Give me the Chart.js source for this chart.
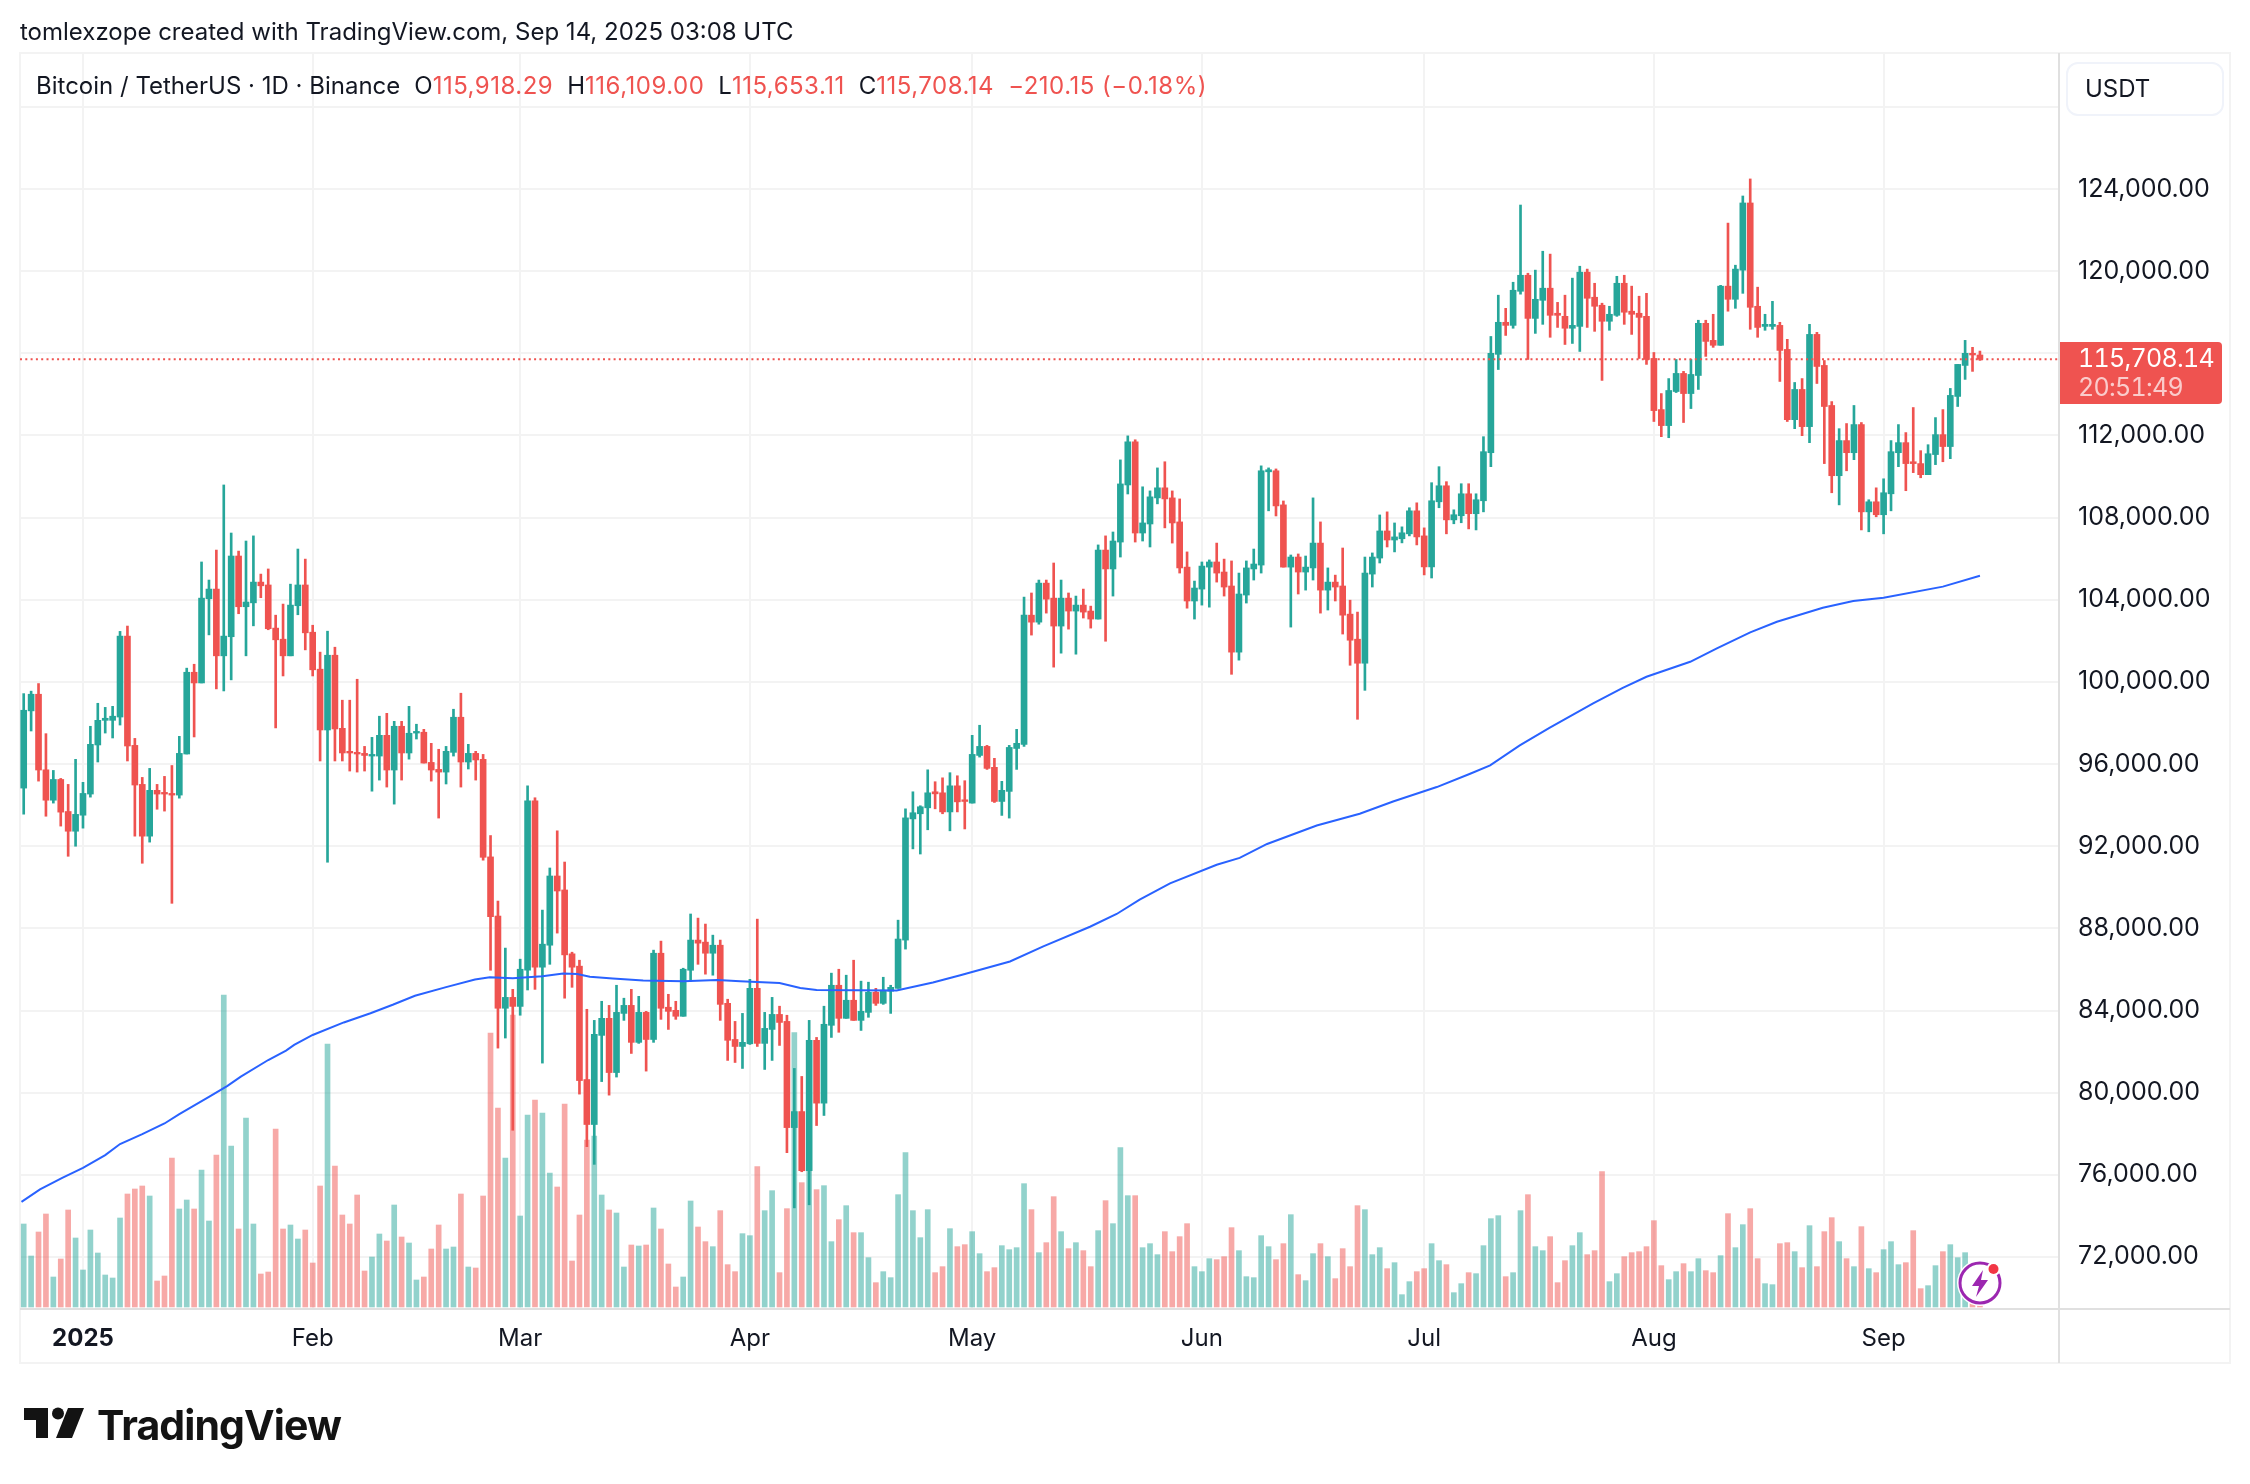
<!DOCTYPE html>
<html>
<head>
<meta charset="utf-8">
<title>BTCUSDT</title>
<script src="https://cdn.jsdelivr.net/npm/chart.js@4"></script>
<style>
body { margin: 0; background: #fff; width: 2250px; height: 1484px; position: relative; overflow: hidden; font-family: Inter, sans-serif; color: #131722; }
canvas { position: absolute; left: 0; top: 0; }
.abs { position: absolute; white-space: nowrap; }
#credit { left: 20px; top: 16px; font-size: 24px; line-height: 32px; }
#legend { left: 36px; top: 70px; font-size: 24px; line-height: 32px; }
#legend span { color: #ef5350; letter-spacing: 0.5px; }
#legend i { font-style: normal; margin-left: 14px; }
#usdt { left: 2066px; top: 62px; width: 154px; height: 50px; border: 2px solid #f0f3fa; border-radius: 12px; font-size: 24px; line-height: 50px; text-indent: 17px; }
#tag { left: 2060px; top: 342px; width: 162px; height: 62px; background: #ef5350; border-radius: 0 4px 4px 0; color: #fff; font-size: 25px; line-height: 29px; padding-top: 2px; box-sizing: border-box; text-indent: 18px; font-variant-numeric: tabular-nums; letter-spacing: -0.7px; }
#tag div + div { opacity: 0.7; }
#brand { left: 97px; top: 1400px; font-size: 41px; line-height: 50px; font-weight: 700; color: #131313; letter-spacing: -0.9px; }
svg { position: absolute; }
</style>
</head>
<body>
<canvas id="chart" width="2250" height="1484"></canvas>
<div class="abs" id="credit">tomlexzope created with TradingView.com, Sep 14, 2025 03:08 UTC</div>
<div class="abs" id="legend">Bitcoin / TetherUS · 1D · Binance<i>O</i><span>115,918.29</span><i>H</i><span>116,109.00</span><i>L</i><span>115,653.11</span><i>C</i><span>115,708.14</span><i></i><span>−210.15 (−0.18%)</span></div>
<div class="abs" id="usdt">USDT</div>
<div class="abs" id="tag"><div>115,708.14</div><div>20:51:49</div></div>
<svg style="left:0;top:1380px" width="100" height="70" viewBox="0 0 100 70">
  <path fill="#131313" d="M24 28H48V58H36V40H24Z"/>
  <circle fill="#131313" cx="58" cy="33.5" r="6"/>
  <path fill="#131313" d="M68 28H84L72 58H56Z"/>
</svg>
<div class="abs" id="brand">TradingView</div>
<svg style="left:1950px;top:1255px" width="60" height="60" viewBox="0 0 60 60">
  <circle cx="30" cy="28" r="23" fill="#fff"/>
  <circle cx="30" cy="28" r="20" fill="#fff" stroke="#9c27b0" stroke-width="3"/>
  <path fill="#9c27b0" d="M33 15L22 31H29L26 42L38 25H31Z"/>
  <circle cx="43.5" cy="14" r="7" fill="#fff"/>
  <circle cx="43.5" cy="14" r="5" fill="#f23645"/>
</svg>
<script>
// first candle is Dec 24 2024, days are counted from Jan 1 2025
const firstDay = -8;

const opens = [
  94830,98590,99400,95720,94240,95250,93690,92730,93510,94540,
  96930,98130,98130,98290,102230,96910,95010,92490,94720,94620,
  94570,94490,96490,100470,99950,104050,104520,101270,102200,106130,
  103660,103850,104860,104720,102620,102080,101270,103710,104720,102420,
  100620,97660,101300,97740,96620,96570,96520,96390,96390,97400,
  95710,97840,96540,97510,97550,96080,95740,95610,96570,98280,
  96100,96520,96230,91480,88600,84110,84640,84200,85960,94210,
  86110,87180,90550,89870,86760,86160,80640,78450,82790,83620,
  80980,83860,84250,82450,83910,82590,86790,84160,84010,83720,
  85960,87430,87330,86790,87180,84350,82590,82250,82380,85080,
  82400,83080,83810,83470,78300,79080,76200,82550,79490,83280,
  85230,83620,84500,83520,83910,84890,84350,84940,85080,87430,
  93330,93580,93870,94650,94600,93670,94940,94260,94100,96420,
  96860,95840,94180,94670,96760,96960,103250,102910,104810,104080,
  102720,104080,103450,103740,103450,103060,106420,105500,106810,109590,
  111690,107250,107690,108960,109450,108960,107790,105590,103940,104520,
  105590,105840,105350,104670,101450,104230,105500,105690,110230,110280,
  108620,105590,106080,105350,105550,106760,104470,104860,104670,103300,
  102080,100910,105250,106030,107350,106910,106970,107210,108330,107110,
  105600,108770,109550,107890,108090,109160,108190,108820,111160,115950,
  117510,117360,119020,119800,117700,118580,119170,117950,117800,117220,
  117310,119950,118730,118340,117560,117850,119410,118050,117950,117800,
  115750,113260,112480,114140,115020,114040,114920,117460,116630,116390,
  119270,118630,120050,123320,118290,117310,117310,117360,116190,112770,
  114240,112430,116920,115410,113460,110040,111750,111160,112530,108280,
  108770,108140,109160,111160,111650,110720,110630,110090,111070,112040,
  111460,113900,115410,116000,115918.29
];
const highs = [
  99430,99550,99920,97480,95690,95300,95010,96230,95110,97840,
  98960,98760,98810,102460,102720,97250,95350,95790,95010,95400,
  95930,97350,100670,100860,105840,104960,106420,109590,107250,106370,
  106860,107110,105250,105500,103250,103790,104760,106470,105980,102760,
  101450,102470,101690,99110,99110,100130,96860,97300,98330,98470,
  98080,98080,98810,97940,97690,97010,96720,96860,98670,99450,
  96960,96620,96470,92520,89330,87040,85030,86500,94940,94360,
  88890,90940,92750,91230,86840,86450,84060,83520,84450,84250,
  85230,84600,85030,84690,83960,86940,87380,84790,84450,86060,
  88700,88500,88210,87670,87430,84550,83470,83860,85520,88450,
  83910,84640,84210,83770,81180,80790,83520,82690,84210,85820,
  86010,85720,86450,85430,85380,85080,85620,85230,88400,93820,
  94650,93970,95720,95140,95330,95580,95430,95190,97400,97890,
  96910,96280,95160,96910,97690,104130,104330,104960,104960,105790,
  104960,104330,104180,104520,103690,106670,107110,107300,110810,111980,
  111790,109500,109300,110420,110720,109300,108910,106330,104910,105840,
  105940,106760,105980,105890,105300,105890,106470,110520,110420,110370,
  108810,106180,106230,106130,108960,107790,105550,105200,106520,103980,
  103400,106080,106280,108130,108280,107740,107550,108480,108720,107500,
  109700,110480,109750,108380,109650,109650,109160,111940,116820,118830,
  118190,119460,123220,119900,120050,120970,120830,118480,118830,119660,
  120240,120100,119410,118440,118290,119750,119800,119270,118780,118920,
  116040,114040,114770,115700,115120,115700,117610,117610,117900,119310,
  122340,120290,123660,124490,119220,117900,118530,117510,116680,114580,
  114770,117410,117020,115650,113650,112330,112580,113460,112630,108870,
  109450,109890,111750,112530,112140,113360,111260,111550,112870,113260,
  114290,115460,116630,116290,116109
];
const lows = [
  93560,97610,95170,93460,94100,92980,91510,92000,92880,94390,
  96100,97510,97270,97900,96150,92490,91170,92200,93800,93710,
  89220,94340,96490,97320,99950,102290,99660,99560,100100,103320,
  101270,102730,104100,102540,97760,100290,101270,103270,101560,100290,
  96150,91220,96150,96150,95660,95610,95660,94680,95220,94880,
  94050,95220,96240,97220,96050,95170,93370,95030,96390,94880,
  95760,95220,91320,85960,82170,82660,78170,83770,85000,85030,
  81440,86250,87770,84600,85130,79930,77370,76510,80540,79880,
  80760,83520,81910,82400,81050,82450,83570,83080,83570,83720,
  85430,86250,85770,85720,83520,81570,81470,81180,82350,82250,
  81130,81570,82300,77080,74390,76150,74540,78400,78890,82690,
  82940,83620,83520,83030,83670,84250,84300,83860,85080,86990,
  91870,91620,92800,93820,93580,92750,93670,92840,94100,96340,
  95740,94130,93500,93370,95740,96860,102280,102810,103350,100720,
  101400,102570,101350,103110,102620,103060,101980,104180,106080,109150,
  106810,106860,106570,108670,107500,106760,105300,103590,103060,103740,
  103640,104860,104180,100370,101060,103840,104960,105300,108330,108080,
  105590,102670,104280,104470,104960,103350,103500,103940,102330,100810,
  98180,99590,104620,105790,106570,106330,106770,107110,106670,105210,
  105060,108480,107210,107700,107750,107450,107400,108280,110480,115210,
  116870,117220,118880,115700,116970,117410,116780,117260,116430,116480,
  116090,117260,117070,114680,117120,117800,117410,116920,115750,115460,
  112680,111940,111890,114090,112630,113310,114240,115850,116290,116390,
  118050,118190,118920,117170,116780,117120,117170,114630,112680,112330,
  111990,111650,114530,110630,109210,108620,110280,110820,107400,107310,
  108040,107210,108330,110480,109310,110190,109940,110090,110580,110720,
  110870,113410,114730,115120,115653.11
];
const closes = [
  98620,99400,95710,94240,95250,93660,92730,93550,94570,96960,
  98130,98230,98330,102230,96880,94980,92490,94720,94540,94540,
  94490,96520,100470,99950,104080,104520,101270,102230,106130,103660,
  103890,104860,104680,102590,102050,101270,103740,104720,102390,100590,
  97660,101300,97710,96540,96540,96490,96420,96470,97400,95710,
  97840,96540,97500,97590,96050,95710,95610,96620,98280,96100,
  96520,96200,91460,88570,84110,84640,84200,86010,94210,86110,
  87230,90550,89820,86710,86110,80590,78450,82840,83620,80980,
  83910,84250,82450,83910,82590,86790,84110,83960,83720,86010,
  87430,87280,86790,87180,84300,82550,82250,82450,85080,82400,
  83130,83810,83420,78300,79080,76200,82550,79490,83330,85230,
  83620,84500,83520,83960,84890,84350,84990,85130,87480,93380,
  93630,93920,94600,94550,93670,94940,94160,94180,96470,96860,
  95790,94180,94720,96810,97010,103250,102910,104810,104030,102720,
  104080,103450,103740,103400,103060,106420,105500,106860,109640,111690,
  107250,107740,109010,109450,108910,107740,105550,103940,104570,105640,
  105840,105300,104620,101450,104280,105550,105740,110280,110330,108570,
  105590,106080,105350,105590,106760,104470,104860,104620,103250,102030,
  100910,105300,106080,107350,106910,107060,107260,108330,107060,105600,
  108820,109550,107890,108140,109160,108190,108870,111210,116000,117510,
  117360,119070,119800,117700,118630,119170,117850,117850,117220,117360,
  119950,118680,118290,117560,117900,119410,118000,117900,117750,115700,
  113210,112480,114190,115020,114040,114970,117460,116580,116390,119270,
  118630,120100,123320,118240,117260,117410,117410,116140,112770,114240,
  112430,116920,115360,113410,110040,111750,111160,112530,108280,108770,
  108140,109210,111210,111650,110630,110630,110090,111110,112040,111460,
  113950,115460,116000,115918.29,115708.14
];
// volume, relative units
const volumes = [
  249,153,225,279,90,144,291,207,111,231,
  162,96,87,267,339,354,363,333,78,93,
  447,294,321,294,411,258,456,936,483,234,
  567,249,99,105,534,234,246,204,231,132,
  363,789,423,276,249,336,108,150,219,198,
  306,210,192,81,90,174,246,174,180,339,
  120,117,333,822,597,447,876,273,576,621,
  582,402,360,609,138,276,501,513,336,291,
  282,120,186,183,186,297,234,129,60,90,
  318,240,196,181,289,127,106,220,214,421,
  289,349,103,295,823,373,422,352,364,196,
  262,304,223,223,148,73,106,88,337,463,
  289,208,292,103,121,235,181,187,226,160,
  106,118,184,172,178,370,292,163,193,331,
  226,175,193,169,121,229,319,250,478,334,
  334,178,190,157,226,166,211,250,121,106,
  145,142,151,238,169,91,88,214,181,142,
  190,277,97,79,160,190,151,85,175,121,
  304,292,157,178,115,133,37,76,106,115,
  190,139,127,43,70,103,100,184,265,274,
  91,103,289,337,181,169,211,73,139,184,
  223,157,169,406,76,100,151,163,166,181,
  259,124,82,106,130,106,145,109,103,154,
  280,178,247,295,145,70,67,190,193,166,
  118,244,121,226,268,196,145,121,241,115,
  103,172,196,127,133,229,55,64,124,166,
  187,148,163,10,4
];
// moving average line, read at these days
const maDays = [-8.3,-5.8,-2.8,0,3,5,8,11,13,17,19.5,21.3,25,27.4,28.5,31,35.2,38.8,41.8,44.8,49,52.9,54.9,58,62,64.8,66.7,68.4,71.5,75.6,81,85.6,88.7,94,96.8,99,109.8,114.7,118.4,125.1,129.6,135.9,139.5,142.6,146.7,153,156.1,159.8,166.5,172.3,176.8,182.7,187.2,189.9,193.9,197.9,203.8,207.8,211,216.9,220.5,225,228.6,234.8,238.9,243,251,256];
const maValues = [74680,75290,75850,76340,76960,77500,77980,78500,78960,79800,80330,80780,81590,82050,82330,82810,83420,83870,84280,84720,85140,85510,85620,85570,85670,85800,85780,85650,85560,85460,85430,85490,85430,85340,85100,85000,84970,85360,85720,86390,87120,88080,88700,89400,90190,91100,91430,92110,93010,93580,94180,94880,95530,95940,96910,97760,98950,99710,100250,100980,101630,102410,102930,103610,103940,104100,104640,105170];

const monthDays = [0,31,59,90,120,151,181,212,243];
const monthLabels = ['2025','Feb','Mar','Apr','May','Jun','Jul','Aug','Sep'];
const priceTicks = [72000,76000,80000,84000,88000,92000,96000,100000,104000,108000,112000,116000,120000,124000,128000];
const lastPrice = 115708.14;

const green = '#26a69a';
const red = '#ef5350';
const days = opens.map((o, i) => firstDay + i);
const candleColors = opens.map((o, i) => closes[i] >= o ? green : red);
const volumeColors = opens.map((o, i) => closes[i] >= o ? 'rgba(38,166,154,0.5)' : 'rgba(239,83,80,0.5)');

const xMin = -8.5;
const xMax = 266.67;

// outer frame and the axis lines that run past the plot
const frame = {
  id: 'frame',
  beforeDatasetsDraw(chart) {
    const c = chart.ctx;
    c.save();
    c.strokeStyle = '#f3f3f3';
    c.lineWidth = 2;
    c.strokeRect(20, 53, 2210, 1310);
    c.strokeStyle = '#e0e0e0';
    c.beginPath();
    c.moveTo(20, 1309); c.lineTo(2230, 1309);
    c.moveTo(2059, 53); c.lineTo(2059, 1363);
    c.stroke();
    c.restore();
  }
};

new Chart(document.getElementById('chart').getContext('2d'), {
  type: 'bar',
  data: {
    datasets: [
      {
        label: 'Volume',
        yAxisID: 'yVol',
        data: days.map((d, i) => ({ x: d, y: volumes[i] })),
        backgroundColor: volumeColors,
        barThickness: 5,
        grouped: false,
        order: 5
      },
      {
        label: 'Wick',
        data: days.map((d, i) => ({ x: d, y: [lows[i], highs[i]] })),
        backgroundColor: candleColors,
        barThickness: 2,
        grouped: false,
        order: 4
      },
      {
        label: 'Body',
        data: days.map((d, i) => ({ x: d, y: [opens[i], closes[i]] })),
        backgroundColor: candleColors,
        barThickness: 6,
        grouped: false,
        order: 3
      },
      {
        type: 'line',
        label: 'MA',
        data: maDays.map((d, i) => ({ x: d, y: maValues[i] })),
        borderColor: '#2962ff',
        borderWidth: 2,
        pointRadius: 0,
        tension: 0,
        order: 2
      },
      {
        type: 'line',
        label: 'Last',
        data: [{ x: xMin, y: lastPrice }, { x: xMax, y: lastPrice }],
        borderColor: red,
        borderWidth: 2,
        borderDash: [2, 3.3],
        pointRadius: 0,
        order: 1
      }
    ]
  },
  options: {
    responsive: false,
    animation: false,
    layout: { padding: { left: 20, top: 53, right: 20, bottom: 121 } },
    plugins: { legend: { display: false }, tooltip: { enabled: false } },
    scales: {
      x: {
        type: 'linear',
        offset: false,
        min: xMin,
        max: xMax,
        afterBuildTicks(scale) { scale.ticks = monthDays.map(v => ({ value: v })); },
        afterFit(scale) { scale.height = 54; },
        grid: { color: '#f3f3f3', lineWidth: 2, drawTicks: false, offset: false },
        border: { display: false },
        ticks: {
          autoSkip: false,
          maxRotation: 0,
          padding: 15,
          color: '#131722',
          font: ctx => ({ family: 'Inter', size: 24, weight: ctx.tick && ctx.tick.value === 0 ? '700' : '400' }),
          callback: v => monthLabels[monthDays.indexOf(v)]
        }
      },
      y: {
        position: 'right',
        min: 69467,
        max: 130622,
        afterBuildTicks(scale) { scale.ticks = priceTicks.map(v => ({ value: v })); },
        afterFit(scale) { scale.width = 171; },
        grid: { color: '#f3f3f3', lineWidth: 2, drawTicks: false },
        border: { display: false },
        ticks: {
          padding: 19,
          color: '#131722',
          font: { family: 'Inter', size: 25 },
          callback: v => v === 128000 ? '' : v.toLocaleString('en-US', { minimumFractionDigits: 2 })
        }
      },
      yVol: { display: false, min: -6, max: 3762 }
    }
  },
  plugins: [frame]
});
</script>
</body>
</html>
